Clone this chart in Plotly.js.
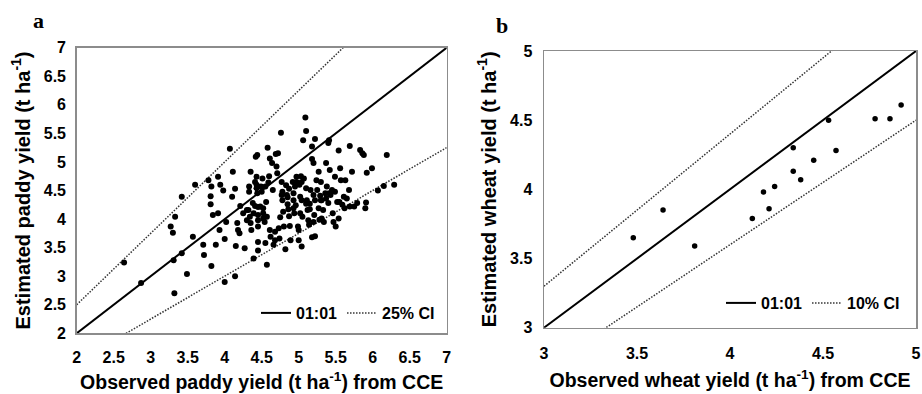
<!DOCTYPE html>
<html>
<head>
<meta charset="utf-8">
<script src="https://cdn.plot.ly/plotly-3.0.1.min.js"></script>
<style>html,body{margin:0;padding:0;background:#fff;}#chart{width:922px;height:394px;}</style>
</head>
<body>
<div id="chart"></div>
<script>
// Panel a: paddy (observed vs estimated, t/ha)
const paddyObs = [2.64,2.87,3.32,3.31,3.42,3.49,3.27,3.33,3.30,3.42,3.60,3.57,3.71,3.72,3.82,3.78,3.82,3.81,3.81,3.84,3.88,3.91,3.94,3.91,3.93,3.98,4.00,4.00,4.02,4.07,4.10,4.11,4.14,4.14,4.15,4.17,4.18,4.20,4.21,4.25,4.27,4.30,4.32,4.35,4.33,4.33,4.34,4.35,4.39,4.38,4.41,4.42,4.44,4.43,4.43,4.43,4.44,4.45,4.45,4.45,4.45,4.45,4.45,4.48,4.49,4.50,4.51,4.52,4.52,4.54,4.55,4.56,4.57,4.58,4.59,4.60,4.61,4.61,4.62,4.64,4.65,4.66,4.68,4.69,4.70,4.72,4.71,4.73,4.74,4.75,4.76,4.77,4.78,4.78,4.80,4.82,4.83,4.84,4.85,4.86,4.87,4.87,4.88,4.89,4.92,4.93,4.93,4.94,4.95,4.96,4.97,4.99,5.00,5.01,5.02,5.03,5.04,5.04,5.05,5.06,5.07,5.09,5.10,5.10,5.11,5.12,5.13,5.14,5.15,5.16,5.18,5.18,5.18,5.20,5.20,5.21,5.22,5.22,5.22,5.24,5.25,5.27,5.27,5.28,5.29,5.30,5.31,5.33,5.34,5.36,5.37,5.38,5.40,5.41,5.40,5.42,5.43,5.45,5.46,5.47,5.49,5.50,5.52,5.54,5.54,5.56,5.57,5.59,5.61,5.62,5.63,5.65,5.68,5.69,5.69,5.72,5.75,5.79,5.83,5.86,5.88,5.90,5.91,5.92,5.99,6.07,6.15,6.19,6.29,4.41,4.55,4.77,4.85,4.97,5.04,5.30,5.37,5.41,5.10,5.15,4.57,4.30,4.39,4.36,4.52,4.68,5.49,5.55,5.20,5.31,4.93,5.02,4.79,5.00];
const paddyEst = [3.24,2.88,2.70,3.28,3.40,3.04,3.87,4.04,3.76,4.39,4.60,3.69,3.55,3.37,3.18,4.68,4.57,4.40,4.26,4.07,3.55,4.74,4.60,4.10,3.81,4.50,2.90,3.65,3.95,5.23,4.39,4.83,4.53,3.00,3.53,3.93,3.81,3.75,4.23,4.10,3.49,3.98,4.16,4.83,4.57,4.48,4.04,3.93,3.31,4.28,4.23,5.09,5.12,4.74,4.60,4.54,4.45,4.21,4.07,3.98,3.87,3.60,3.45,4.22,4.57,4.48,4.71,4.10,4.01,3.95,3.58,4.30,3.20,5.25,4.64,4.75,5.06,3.81,3.69,4.98,4.51,3.55,3.63,5.14,4.92,5.15,4.80,3.84,3.66,4.03,5.51,4.65,4.48,4.33,3.87,3.47,4.59,4.42,4.26,4.17,4.53,4.05,3.88,3.63,4.65,4.45,4.33,4.10,4.57,4.24,4.74,3.87,3.63,4.60,4.39,4.75,4.33,3.52,4.04,5.38,4.71,5.78,5.54,4.54,4.33,4.16,3.98,3.90,4.27,4.51,5.27,5.05,3.68,4.98,4.42,4.07,5.40,4.33,3.70,4.68,4.51,4.19,4.83,3.99,4.41,4.65,4.33,4.16,3.95,4.45,4.98,4.57,5.33,5.38,4.28,4.86,4.42,4.51,4.10,3.95,4.74,3.87,4.30,5.20,4.01,4.89,4.68,4.25,4.39,4.19,4.68,4.36,4.51,5.28,4.22,4.83,4.22,4.28,5.21,5.15,5.12,4.19,4.29,4.81,4.89,4.50,4.58,5.12,4.60,4.65,4.57,4.42,4.38,4.65,4.65,4.33,4.36,4.45,4.27,4.17,4.04,4.16,4.10,3.81,4.19,3.78,4.48,4.30,3.95,4.01,4.19,4.10,4.13,3.81];

// Panel b: wheat
const wheatObs = [3.48,3.64,3.81,4.12,4.18,4.21,4.24,4.34,4.34,4.38,4.45,4.53,4.57,4.78,4.86,4.92];
const wheatEst = [3.65,3.85,3.59,3.79,3.98,3.86,4.02,4.30,4.13,4.07,4.21,4.50,4.28,4.51,4.51,4.61];

// Axis extents, tick labels, reference ratios
const paddyRange = [2, 7];
const wheatRange = [3, 5];
const paddyTicks = [2,2.5,3,3.5,4,4.5,5,5.5,6,6.5,7];
const paddyTickText = ["2","2.5","3","3.5","4","4.5","5","5.5","6","6.5","7"];
const wheatTicks = [3,3.5,4,4.5,5];
const wheatTickText = ["3","3.5","4","4.5","5"];
const paddyCI = 0.25;
const wheatCI = 0.10;
const lineNames = ["01:01", "25% CI", "10% CI"];

const W = 922, H = 394;
const FONT = "'Liberation Sans', Arial, sans-serif";
const fB = (s) => ({family: FONT, size: s, color: "#000", weight: 700});
const b = (t) => "<b>" + t + "</b>";

function refLines(rng, ci, xa, ya, leg, ciName) {
  const xs = [rng[0], rng[1]];
  return [
    {x: xs, y: xs.map(v => v), xaxis: xa, yaxis: ya, mode: "lines", name: b(lineNames[0]),
     line: {color: "#000", width: 2}, legend: leg, hoverinfo: "skip"},
    {x: xs, y: xs.map(v => v * (1 + ci)), xaxis: xa, yaxis: ya, mode: "lines", name: b(ciName),
     line: {color: "#333", width: 1.5, dash: "1.5px,1.5px"}, legend: leg, hoverinfo: "skip"},
    {x: xs, y: xs.map(v => v * (1 - ci)), xaxis: xa, yaxis: ya, mode: "lines", name: b(ciName),
     line: {color: "#333", width: 1.5, dash: "1.5px,1.5px"}, legend: leg, showlegend: false, hoverinfo: "skip"}
  ];
}

const traces = [
  ...refLines(paddyRange, paddyCI, "x", "y", "legend", lineNames[1]),
  {x: paddyObs, y: paddyEst, xaxis: "x", yaxis: "y", mode: "markers", showlegend: false,
   marker: {color: "#000", size: 6}},
  ...refLines(wheatRange, wheatCI, "x2", "y2", "legend2", lineNames[2]),
  {x: wheatObs, y: wheatEst, xaxis: "x2", yaxis: "y2", mode: "markers", showlegend: false,
   marker: {color: "#000", size: 5.5}}
];

const axBase = {
  showgrid: false, zeroline: false, showline: true, mirror: true,
  linecolor: "#8c8c8c", linewidth: 1.5, ticks: "",
  tickfont: fB(16), fixedrange: true, tickmode: "array"
};

const layout = {
  width: W, height: H,
  margin: {l: 0, r: 0, t: 0, b: 0},
  paper_bgcolor: "#fff", plot_bgcolor: "#fff",
  font: {family: FONT, color: "#000"},
  xaxis: Object.assign({}, axBase, {
    domain: [76.7 / W, 446.7 / W], range: paddyRange, anchor: "y",
    tickvals: paddyTicks, ticktext: paddyTickText.map(b), ticklabelstandoff: 9,
    title: {text: b("Observed paddy yield (t ha<sup>-1</sup>) from CCE"), font: fB(19.5), standoff: 10}
  }),
  yaxis: Object.assign({}, axBase, {
    domain: [1 - 333.3 / H, 1 - 47.7 / H], range: paddyRange, anchor: "x",
    tickvals: paddyTicks, ticktext: paddyTickText.map(b), ticklabelstandoff: 6,
    title: {text: b("Estimated paddy yield (t ha<sup>-1</sup>)"), font: fB(20), standoff: 8}
  }),
  xaxis2: Object.assign({}, axBase, {
    domain: [544 / W, 916 / W], range: wheatRange, anchor: "y2",
    tickvals: wheatTicks, ticktext: wheatTickText.map(b), ticklabelstandoff: 11,
    title: {text: b("Observed wheat yield (t ha<sup>-1</sup>) from CCE"), font: fB(19.5), standoff: 12}
  }),
  yaxis2: Object.assign({}, axBase, {
    domain: [1 - 327.7 / H, 1 - 51 / H], range: wheatRange, anchor: "x2",
    tickvals: wheatTicks, ticktext: wheatTickText.map(b), ticklabelstandoff: 7,
    title: {text: b("Estimated wheat yield (t ha<sup>-1</sup>)"), font: fB(20), standoff: 8}
  }),
  legend: {
    x: 440 / W, y: 1 - 313 / H, xanchor: "right", yanchor: "middle",
    orientation: "h", bgcolor: "rgba(0,0,0,0)", font: fB(16),
    itemwidth: 30, tracegroupgap: 0
  },
  legend2: {
    x: 905 / W, y: 1 - 303 / H, xanchor: "right", yanchor: "middle",
    orientation: "h", bgcolor: "rgba(0,0,0,0)", font: fB(16),
    itemwidth: 30, tracegroupgap: 0
  },
  annotations: [
    {text: b("a"), xref: "paper", yref: "paper", x: 38 / W, y: 1 - 20 / H, showarrow: false,
     xanchor: "center", yanchor: "middle",
     font: {family: "'Liberation Serif', 'Times New Roman', serif", size: 22, color: "#000", weight: 700}},
    {text: b("b"), xref: "paper", yref: "paper", x: 502 / W, y: 1 - 25 / H, showarrow: false,
     xanchor: "center", yanchor: "middle",
     font: {family: "'Liberation Serif', 'Times New Roman', serif", size: 22, color: "#000", weight: 700}}
  ]
};

Plotly.newPlot("chart", traces, layout, {displayModeBar: false, staticPlot: true});
</script>
</body>
</html>
